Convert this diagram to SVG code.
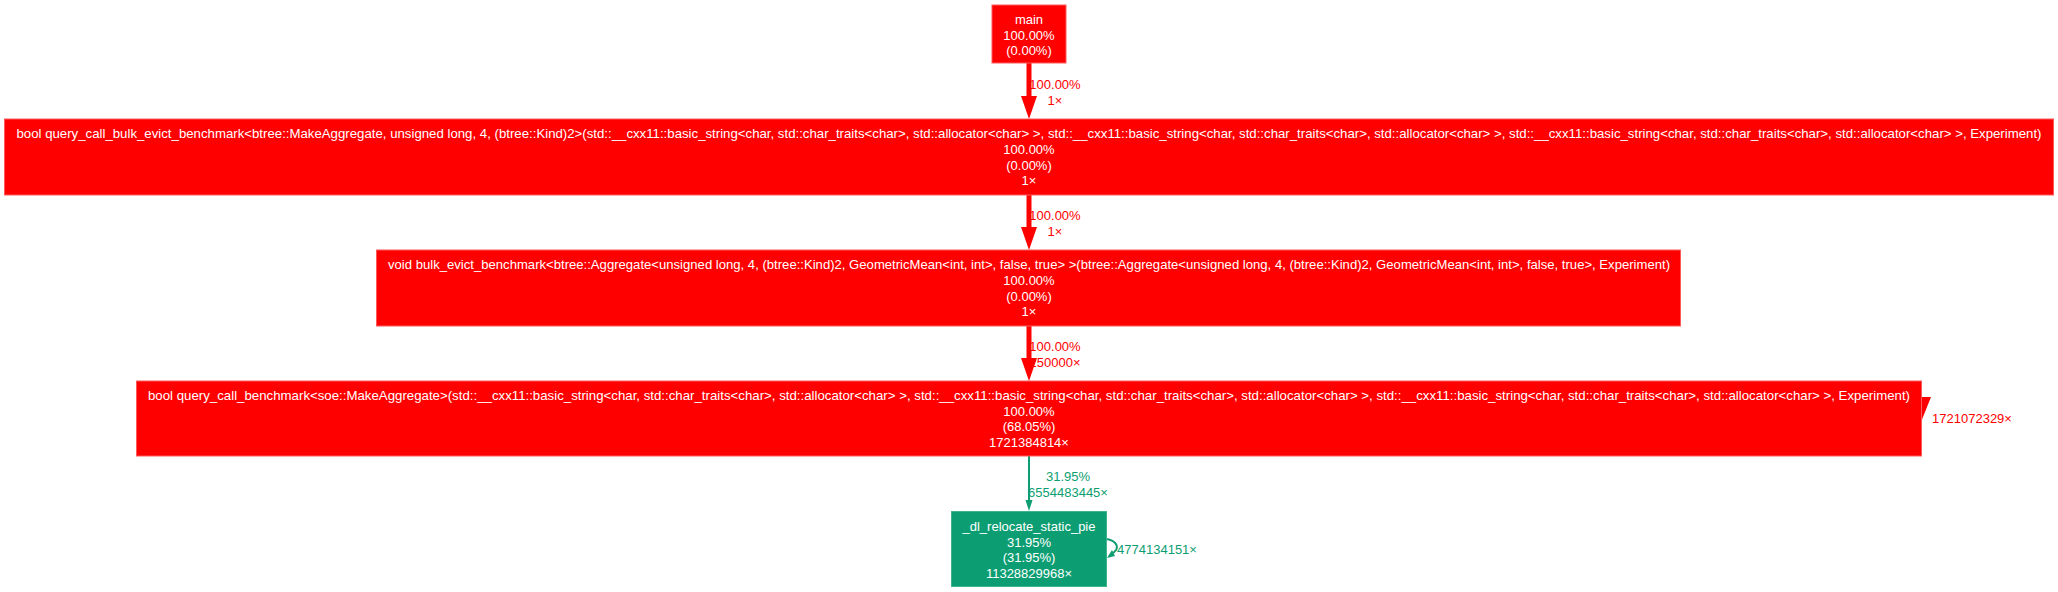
<svg xmlns="http://www.w3.org/2000/svg" width="2058" height="592" viewBox="0 0 2058 592">
<style>
text{font-family:"Liberation Sans",Arial,sans-serif;font-size:13px;text-anchor:middle}
.nt{fill:#ffffff}
.red{fill:#ff0000;stroke:#ff5a5a;stroke-width:1}
.grn{fill:#0c9e72;stroke:#3db38e;stroke-width:1}
.rl{fill:#ff0000}
.gl{fill:#0c9e72}
.re{stroke:#ff0000;stroke-width:5;fill:none}
.ge{stroke:#0c9e72;stroke-width:2;fill:none}
</style>
<rect width="2058" height="592" fill="#ffffff"/>
<g id="connectors">
  <g id="e1">
    <line class="re" x1="1029" y1="63" x2="1029" y2="98"/>
    <polygon class="rl" points="1021,96 1037,96 1029,119"/>
    <text class="rl" x="1055" y="89">100.00%</text>
    <text class="rl" x="1055" y="105">1×</text>
  </g>
  <g id="e2">
    <line class="re" x1="1029" y1="195" x2="1029" y2="230"/>
    <polygon class="rl" points="1021,227 1037,227 1029,250"/>
    <text class="rl" x="1055" y="220">100.00%</text>
    <text class="rl" x="1055" y="236">1×</text>
  </g>
  <g id="e3">
    <line class="re" x1="1029" y1="326" x2="1029" y2="361"/>
    <polygon class="rl" points="1021,358 1037,358 1029,381"/>
    <text class="rl" x="1055" y="351">100.00%</text>
    <text class="rl" x="1055" y="367">250000×</text>
  </g>
  <g id="e4">
    <polygon class="rl" points="1921,397 1931,397 1921,422"/>
    <text class="rl" x="1972" y="423">1721072329×</text>
  </g>
  <g id="e5">
    <line class="ge" x1="1029" y1="456" x2="1029" y2="502"/>
    <polygon class="gl" points="1025.5,500 1032.5,500 1029,511"/>
    <text class="gl" x="1068" y="481">31.95%</text>
    <text class="gl" x="1068" y="497">6554483445×</text>
  </g>
  <g id="e6">
    <path class="ge" d="M1106,539 C1114,540 1119,545 1116,550 C1114,553 1112,554 1110,555"/>
    <polygon class="gl" points="1107,558 1112,550 1115,556"/>
    <text class="gl" x="1157" y="554">4774134151×</text>
  </g>
</g>
<g id="main">
  <rect class="red" x="992" y="5" width="74" height="58"/>
  <text class="nt" x="1029" y="24">main</text>
  <text class="nt" x="1029" y="39.5">100.00%</text>
  <text class="nt" x="1029" y="55">(0.00%)</text>
</g>
<g id="query_call_bulk_evict_benchmark">
  <rect class="red" x="4.5" y="119" width="2049" height="76"/>
  <text class="nt" x="1029" y="138" textLength="2025" lengthAdjust="spacingAndGlyphs">bool query_call_bulk_evict_benchmark&lt;btree::MakeAggregate, unsigned long, 4, (btree::Kind)2&gt;(std::__cxx11::basic_string&lt;char, std::char_traits&lt;char&gt;, std::allocator&lt;char&gt; &gt;, std::__cxx11::basic_string&lt;char, std::char_traits&lt;char&gt;, std::allocator&lt;char&gt; &gt;, std::__cxx11::basic_string&lt;char, std::char_traits&lt;char&gt;, std::allocator&lt;char&gt; &gt;, Experiment)</text>
  <text class="nt" x="1029" y="154">100.00%</text>
  <text class="nt" x="1029" y="169.5">(0.00%)</text>
  <text class="nt" x="1029" y="185">1×</text>
</g>
<g id="bulk_evict_benchmark">
  <rect class="red" x="376.5" y="250" width="1304" height="76"/>
  <text class="nt" x="1029" y="269" textLength="1282" lengthAdjust="spacingAndGlyphs">void bulk_evict_benchmark&lt;btree::Aggregate&lt;unsigned long, 4, (btree::Kind)2, GeometricMean&lt;int, int&gt;, false, true&gt; &gt;(btree::Aggregate&lt;unsigned long, 4, (btree::Kind)2, GeometricMean&lt;int, int&gt;, false, true&gt;, Experiment)</text>
  <text class="nt" x="1029" y="285">100.00%</text>
  <text class="nt" x="1029" y="300.5">(0.00%)</text>
  <text class="nt" x="1029" y="316">1×</text>
</g>
<g id="query_call_benchmark">
  <rect class="red" x="136.5" y="381" width="1785" height="75"/>
  <text class="nt" x="1029" y="400" textLength="1762" lengthAdjust="spacingAndGlyphs">bool query_call_benchmark&lt;soe::MakeAggregate&gt;(std::__cxx11::basic_string&lt;char, std::char_traits&lt;char&gt;, std::allocator&lt;char&gt; &gt;, std::__cxx11::basic_string&lt;char, std::char_traits&lt;char&gt;, std::allocator&lt;char&gt; &gt;, std::__cxx11::basic_string&lt;char, std::char_traits&lt;char&gt;, std::allocator&lt;char&gt; &gt;, Experiment)</text>
  <text class="nt" x="1029" y="415.5">100.00%</text>
  <text class="nt" x="1029" y="431">(68.05%)</text>
  <text class="nt" x="1029" y="446.5">1721384814×</text>
</g>
<g id="dl_relocate_static_pie">
  <rect class="grn" x="951.5" y="511.5" width="155" height="75"/>
  <text class="nt" x="1029" y="531">_dl_relocate_static_pie</text>
  <text class="nt" x="1029" y="546.5">31.95%</text>
  <text class="nt" x="1029" y="562">(31.95%)</text>
  <text class="nt" x="1029" y="577.5">11328829968×</text>
</g>
</svg>
